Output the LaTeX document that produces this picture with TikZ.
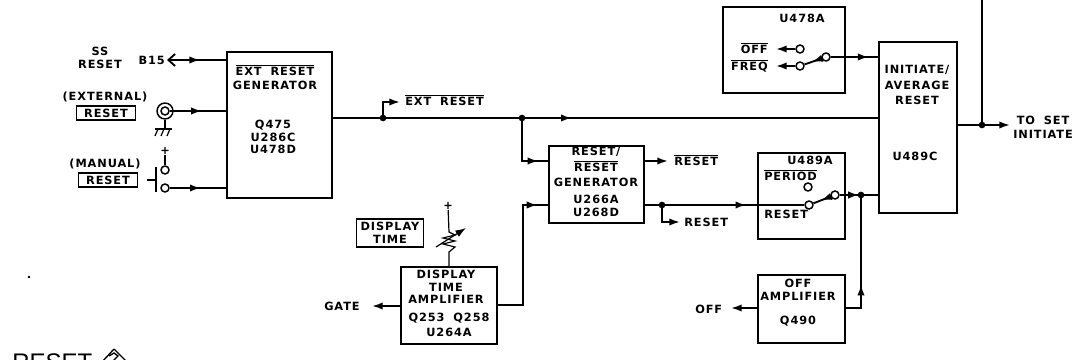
\documentclass[tikz,border=0pt]{standalone}
\usepackage{fontspec}
\usetikzlibrary{arrows.meta,decorations.markings}
\newfontfamily\lettering[LetterSpace=8]{DejaVu Sans Bold}
\newfontfamily\titlefont{Liberation Sans}
\newcommand{\px}{0.75pt}
\newcommand{\ovl}[1]{$\overline{\mbox{#1}}$}
\tikzset{
	wire/.style={line width=1.4pt},
	block/.style={draw,line width=1.4pt,inner sep=0,anchor=north west},
	lbl/.style={font=\lettering\fontsize{8.5}{9.5}\selectfont,align=center,inner sep=0},
	tagbox/.style={lbl,draw,line width=1.1pt,inner sep=1pt,minimum width=59*\px,minimum height=14*\px},
	contact/.style={circle,draw,line width=1.1pt,fill=white,inner sep=0,minimum size=8*\px},
	tip/.style={-{Latex[length=8pt,width=5.5pt]}},
	flow/.style={postaction={decorate},decoration={markings,mark=at position #1 with {\arrow{Latex[length=8pt,width=5.5pt]}}}}
}
\begin{document}
\begin{tikzpicture}[x=\px,y=-\px]
	\useasboundingbox (0,0) rectangle (1076,360);
	\clip (0,0) rectangle (1076,360);
	% blocks
	\node[block,minimum width=105*\px,minimum height=146*\px] (extgen) at (226,51) {};
	\node[block,minimum width=122*\px,minimum height=86*\px] (freqsw) at (722,6) {};
	\node[block,minimum width=78*\px,minimum height=171*\px] (initavg) at (878,41) {};
	\node[block,minimum width=95*\px,minimum height=77*\px] (resetgen) at (548,145) {};
	\node[block,minimum width=87*\px,minimum height=86*\px] (periodsw) at (757,152) {};
	\node[block,minimum width=96*\px,minimum height=77*\px] (dispamp) at (400,266) {};
	\node[block,minimum width=87*\px,minimum height=68*\px] (offamp) at (757,274) {};
	% block texts
	\node[lbl] (extgenname) at (275,77) {\ovl{EXT\hspace{3pt} RESET}\\[1pt]GENERATOR};
	\node[lbl] (extgenparts) at (273,137) {Q475\\U286C\\U478D};
	\node[lbl] (freqname) at (802,18) {U478A};
	\node[lbl] (initname) at (917,85) {INITIATE/\\[2pt]AVERAGE\\[2pt]RESET};
	\node[lbl] (initpart) at (915,156) {U489C};
	\node[lbl] (resetname) at (596,167) {RESET/\\[2pt]\ovl{RESET}\\[2pt]GENERATOR};
	\node[lbl] (resetparts) at (596,206) {U266A\\U268D};
	\node[lbl] (periodname) at (810,160) {U489A};
	\node[lbl,anchor=west] (periodtxt) at (764,175) {\ovl{PERIOD}};
	\node[lbl,anchor=west] (resettxt) at (764,214) {RESET};
	\node[lbl] (dispname) at (446,287) {DISPLAY\\TIME\\AMPLIFIER};
	\node[lbl] (dispparts) at (449,325) {Q253\hspace{3pt} Q258\\[2pt]U264A};
	\node[lbl] (offname) at (798,290) {OFF\\AMPLIFIER};
	\node[lbl] (offpart) at (798,321) {Q490};
	% left side inputs
	\node[lbl] (ssreset) at (100,58) {SS\\RESET};
	\node[lbl,anchor=east] (bfifteen) at (165,60) {B15};
	\coordinate (B1) at (167,60);
	\draw[wire,{Straight Barb[length=5pt,width=9pt]}-,flow=0.56] (B1) -- (extgen.west |- B1);
	\node[lbl] (extern) at (105,97) {(EXTERNAL)};
	\node[tagbox] (exttag) at (106,113) {RESET};
	\node[circle,draw,line width=1.1pt,minimum size=16*\px,inner sep=0] (jack) at (165,111) {};
	\node[circle,draw,line width=1.1pt,minimum size=8*\px,inner sep=0] (jackin) at (165,111) {};
	\draw[wire,flow=0.57] (jackin.east) -- (extgen.west |- jackin);
	\coordinate (G1) at (165,129);
	\draw[line width=0.9pt] (jack.south) -- (G1);
	\draw[line width=0.9pt] (155,129) -- (172,129);
	\draw[line width=0.9pt] (158,129) -- (155,136);
	\draw[line width=0.9pt] (164,129) -- (161,136);
	\draw[line width=0.9pt] (170,129) -- (167,136);
	\node[lbl] (plusa) at (165,151) {+};
	\node[contact] (mana) at (165,170) {};
	\node[contact] (manb) at (165,188) {};
	\draw[line width=0.9pt] (plusa) -- (mana);
	\draw[wire,flow=0.55] (manb) -- (extgen.west |- manb);
	\draw[wire] (156,167) -- (156,192);
	\draw[wire] (147,180) -- (156,180);
	\node[lbl] (manual) at (105,164) {(MANUAL)};
	\node[tagbox] (mantag) at (108,180) {RESET};
	% main line
	\coordinate (M1) at (331,118);
	\coordinate (J1) at (383,118);
	\coordinate (J2) at (522,118);
	\draw[wire,flow=0.44] (M1) -- (initavg.west |- M1);
	\fill (J1) circle [radius=2.5pt];
	\fill (J2) circle [radius=2.5pt];
	\node[lbl,anchor=west] (exttxt) at (405,100) {\ovl{EXT\hspace{3pt} RESET}};
	\draw[wire,tip] (J1) |- (400,102);
	\coordinate (R1) at (548,161);
	\draw[wire,flow=0.86] (J2) |- (R1);
	% reset generator outputs
	\node[lbl,anchor=west] (rbar) at (674,160) {\ovl{RESET}};
	\coordinate (R2) at (668,161);
	\draw[wire,tip] (resetgen.east |- R2) -- (R2);
	\coordinate (R3) at (643,205);
	\coordinate (J3) at (662,205);
	\fill (J3) circle [radius=2.5pt];
	\node[lbl,anchor=west] (rplain) at (684,222) {RESET};
	\draw[wire,tip] (J3) |- (680,222);
	\node[contact] (pera) at (808,187) {};
	\node[contact] (perb) at (809,205) {};
	\node[contact] (perc) at (835,195) {};
	\draw[wire,flow=0.64] (R3) -- (perb);
	\draw[wire,flow=0.55] (perc) -- (perb);
	\draw[wire,flow=0.5] (perc) -- (initavg.west |- perc);
	\coordinate (J4) at (861,195);
	\fill (J4) circle [radius=2.5pt];
	% off amplifier
	\coordinate (F1) at (844,308);
	\draw[wire,flow=0.31] (F1) -| (J4);
	\node[lbl,anchor=west] (offtxt) at (695,309) {OFF};
	\coordinate (F2) at (731,308);
	\draw[wire,tip] (offamp.west |- F2) -- (F2);
	% display time
	\node[lbl,anchor=west] (gatetxt) at (324,306) {GATE};
	\coordinate (D1) at (372,306);
	\draw[wire,tip] (dispamp.west |- D1) -- (D1);
	\coordinate (D2) at (496,305);
	\draw[wire,flow=0.93] (D2) -| (523,205) -- (resetgen.west |- 523,205);
	\node[tagbox,minimum width=67*\px,minimum height=28*\px] (disptag) at (390,233) {DISPLAY\\TIME};
	\node[lbl] (plusb) at (448,206) {+};
	\coordinate (Z1) at (449,232);
	\coordinate (Z2) at (449,252);
	\draw[line width=0.9pt] (plusb) -- (Z1) -- ++(6,3) -- ++(-12,3) -- ++(12,3) -- ++(-12,3) -- ++(12,3) -- (Z2) -- (dispamp.north -| Z2);
	\coordinate (A1) at (436,247);
	\coordinate (A2) at (466,228);
	\draw[line width=0.9pt,tip] (A1) -- (A2);
	% freq switch
	\node[lbl,anchor=east] (offbar) at (768,48) {\ovl{OFF}};
	\node[lbl,anchor=east] (freqbar) at (768,66) {\ovl{FREQ}};
	\node[contact] (frqa) at (800,49) {};
	\node[contact] (frqb) at (800,66) {};
	\node[contact] (frqc) at (826,57) {};
	\coordinate (S1) at (776,49);
	\coordinate (S2) at (776,66);
	\draw[wire,tip] (frqa) -- (S1);
	\draw[wire,tip] (frqb) -- (S2);
	\draw[wire,flow=0.55] (frqc) -- (frqb);
	\draw[wire,flow=0.8] (frqc) -- (initavg.west |- frqc);
	% output
	\coordinate (O1) at (956,125);
	\coordinate (O2) at (1010,125);
	\coordinate (J5) at (982,125);
	\coordinate (O3) at (982,0);
	\draw[wire,tip] (O1) -- (O2);
	\draw[wire] (J5) -- (O3);
	\fill (J5) circle [radius=2.5pt];
	\node[lbl,anchor=west] (toset) at (1013,127) {TO\hspace{3pt} SET\\[1pt]INITIATE};
	% page remains
	\coordinate (P1) at (29,277);
	\fill (P1) circle [radius=1pt];
	\node[font=\titlefont\fontsize{18}{18}\selectfont,anchor=base west,inner sep=0] (pagetitle) at (12,370) {RESET};
	\coordinate (H1) at (114,349);
	\draw[line width=1pt] (H1) -- (102,362) (H1) -- (127,362);
	\draw[line width=1pt] (109,356) -- (114,353) -- (118,356) -- (112,362);
\end{tikzpicture}
\end{document}
